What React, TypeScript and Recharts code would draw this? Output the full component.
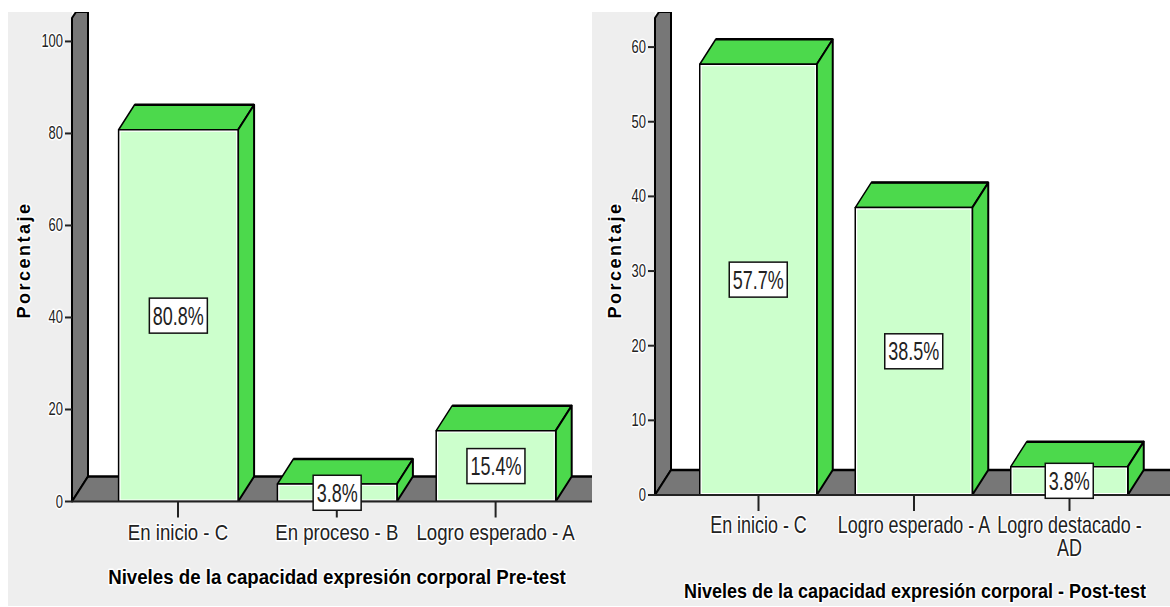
import { BarChart, Bar, XAxis, YAxis, ReferenceArea, LabelList } from "recharts";

const preLevels = ["En inicio - C", "En proceso - B", "Logro esperado - A"];
const preValues = [80.8, 3.8, 15.4];
const preTicks = [0, 20, 40, 60, 80, 100];

const postLevels = ["En inicio - C", "Logro esperado - A", "Logro destacado - AD"];
const postValues = [57.7, 38.5, 3.8];
const postTicks = [0, 10, 20, 30, 40, 50, 60];

const SANS = "'Liberation Sans', Arial, sans-serif";
const GREEN = "#4cd94c";
const PALE = "#ccffcc";
const WALL = "#777777";
const DX = 16;
const DY = 25;

const halo = { paintOrder: "stroke", stroke: "#fff", strokeWidth: 3, strokeLinejoin: "round" } as const;

// the original text is squeezed horizontally, and no narrow font is installed
function Squeezed({ x, y, sx, anchor = "middle", size, bold, children }: any) {
  return (
    <text
      transform={`translate(${x} ${y}) scale(${sx} 1)`}
      textAnchor={anchor}
      fontFamily={SANS}
      fontSize={size}
      fontWeight={bold ? "bold" : "normal"}
      fill={bold ? "#000" : "#222"}
      style={halo}
    >
      {children}
    </text>
  );
}

function Box3D({ x, y, width, height }: any) {
  const r = x + width;
  const b = y + height;
  return (
    <g stroke="#000" strokeLinejoin="round">
      <path d={`M${x} ${y}L${x + DX} ${y - DY}H${r + DX}L${r} ${y}Z`} fill={GREEN} strokeWidth={1.5} />
      <path d={`M${x + DX} ${y - DY}H${r + DX}`} fill="none" strokeWidth={2.5} />
      <path d={`M${r} ${y}L${r + DX} ${y - DY}V${b - DY}L${r} ${b}Z`} fill={GREEN} strokeWidth={2} />
      <rect x={x} y={y} width={width} height={height} fill="#fff" strokeWidth={1.5} />
      <rect x={x + 2} y={y + 2} width={width - 4} height={Math.max(height - 4, 0)} fill={PALE} stroke="none" />
    </g>
  );
}

// ReferenceArea gets the padded x range, so the padding is added back here
function Backdrop({ x, y, width, height, pad }: any) {
  const l = x - pad.left;
  const r = x + width + pad.right;
  const b = y + height;
  return (
    <g stroke="#000" strokeLinejoin="round">
      <rect x={l} y={y} width={r - l} height={height} fill="#fff" stroke="none" />
      <path d={`M${l} ${y + 6}L${l + 4} ${y}H${l + DX}V${b - DY}L${l} ${b}Z`} fill={WALL} strokeWidth={2} />
      <path d={`M${l} ${b}L${l + DX} ${b - DY}H${r}V${b}Z`} fill={WALL} stroke="none" />
      <path d={`M${l + DX} ${b - DY}H${r}`} fill="none" strokeWidth={2.5} />
      <path d={`M${l} ${b}L${l + DX} ${b - DY}`} fill="none" strokeWidth={2} />
    </g>
  );
}

function ValueTag({ x, y, width, height, value }: any) {
  const w = String(value).length > 3 ? 58 : 48;
  const h = 35;
  const cx = x + width / 2;
  const cy = y + height / 2;
  return (
    <g>
      <rect x={cx - w / 2} y={cy - h / 2} width={w} height={h} fill="#fff" stroke="#111" strokeWidth={1.5} />
      <text
        transform={`translate(${cx} ${cy + 9}) scale(0.72 1)`}
        textAnchor="middle"
        fontFamily={SANS}
        fontSize={25}
        fill="#222"
      >
        {value}%
      </text>
    </g>
  );
}

function YTick({ x, y, payload }: any) {
  return (
    <Squeezed x={x} y={y + 6} sx={0.72} anchor="end" size={18}>
      {payload.value}
    </Squeezed>
  );
}

function XTick({ x, y, payload, sx }: any) {
  // the long category wraps in the original
  const label: string = payload.value;
  const lines = label.length > 18 ? [label.slice(0, -3), label.slice(-2)] : [label];
  return (
    <g>
      {lines.map((line, i) => (
        <Squeezed key={line} x={x} y={y + 20 + i * 23} sx={sx} size={23}>
          {line}
        </Squeezed>
      ))}
    </g>
  );
}

type PanelProps = {
  levels: string[];
  values: number[];
  ticks: number[];
  top: number;
  left: number;
  width: number;
  axisWidth: number;
  axisHeight: number;
  padding: { left: number; right: number };
  barSize: number;
  tickSqueeze: number;
  title: string;
  titleSqueeze: number;
  titleX: number;
  titleY: number;
  yTitleX: number;
};

function Panel(p: PanelProps) {
  const data = p.levels.map((level, i) => ({ level, value: p.values[i] }));
  return (
    <div style={{ position: "absolute", left: p.left, top: 12, background: "#eeeeee" }}>
      <BarChart width={p.width} height={594} data={data} margin={{ top: 0, right: 0, bottom: 0, left: 0 }}>
        <XAxis
          dataKey="level"
          height={p.axisHeight}
          padding={p.padding}
          axisLine={{ stroke: "#222", strokeWidth: 2 }}
          tickLine={{ stroke: "#222", strokeWidth: 2 }}
          tickSize={16}
          interval={0}
          tick={<XTick sx={p.tickSqueeze} />}
        />
        <YAxis
          width={p.axisWidth}
          domain={[0, p.top]}
          ticks={p.ticks}
          allowDataOverflow
          axisLine={false}
          tickLine={{ stroke: "#222", strokeWidth: 2 }}
          tickSize={7}
          tick={<YTick />}
        />
        <ReferenceArea y1={0} y2={p.top} shape={<Backdrop pad={p.padding} />} ifOverflow="visible" />
        <Bar dataKey="value" barSize={p.barSize} shape={<Box3D />} isAnimationActive={false}>
          <LabelList dataKey="value" content={<ValueTag />} />
        </Bar>
        <Squeezed x={p.titleX} y={p.titleY} sx={p.titleSqueeze} size={21} bold>
          {p.title}
        </Squeezed>
        <text
          transform={`translate(${p.yTitleX} 248) rotate(-90)`}
          textAnchor="middle"
          fontFamily={SANS}
          fontWeight="bold"
          fontSize={18}
          letterSpacing={2.5}
          fill="#000"
          style={halo}
        >
          Porcentaje
        </text>
      </BarChart>
    </div>
  );
}

export default function App() {
  return (
    <div style={{ position: "absolute", left: 0, top: 0, width: 1170, height: 607, background: "#fff", overflow: "hidden" }}>
      <Panel
        levels={preLevels}
        values={preValues}
        ticks={preTicks}
        top={106.4}
        left={8}
        width={584}
        axisWidth={64}
        axisHeight={104.5}
        padding={{ left: 26.6, right: 17 }}
        barSize={119.5}
        tickSqueeze={0.81}
        title="Niveles de la capacidad expresión corporal Pre-test"
        titleSqueeze={0.89}
        titleX={329}
        titleY={572}
        yTitleX={22}
      />
      <Panel
        levels={postLevels}
        values={postValues}
        ticks={postTicks}
        top={64.7}
        left={592}
        width={578}
        axisWidth={63}
        axisHeight={111}
        padding={{ left: 25.75, right: 22.75 }}
        barSize={117}
        tickSqueeze={0.78}
        title="Niveles de la capacidad expresión corporal - Post-test"
        titleSqueeze={0.857}
        titleX={323}
        titleY={586}
        yTitleX={29}
      />
    </div>
  );
}
